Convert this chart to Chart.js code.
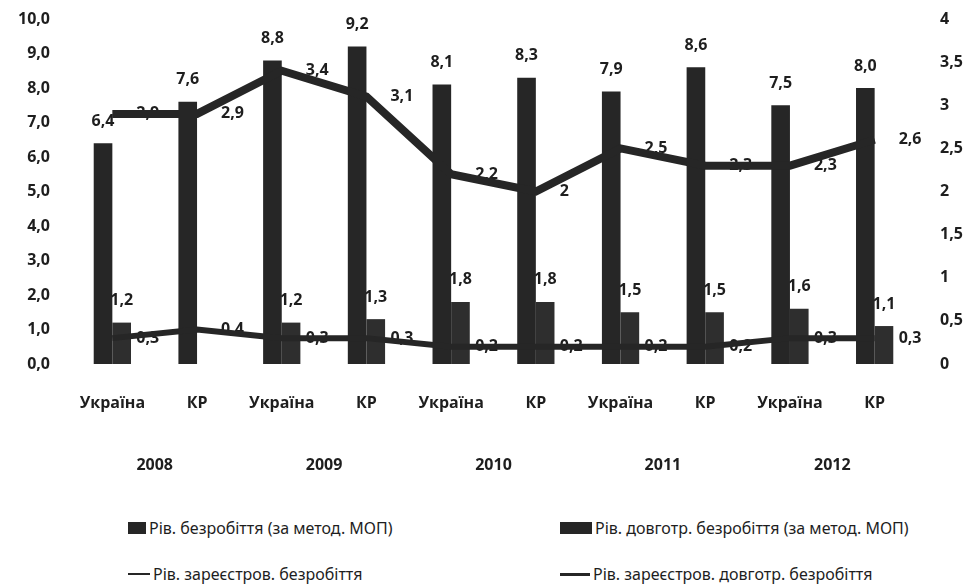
<!DOCTYPE html>
<html>
<head>
<meta charset="utf-8">
<script src="https://cdn.jsdelivr.net/npm/chart.js@4"></script>
<style>
	body { margin: 0; background: #fff; width: 976px; height: 588px; overflow: hidden; }
	.wrap { position: relative; width: 976px; height: 490px; }
	.legend { position: absolute; top: 490px; left: 0; width: 976px; height: 98px; font-family: "Liberation Sans Narrow", "Noto Sans", sans-serif; font-size: 16px; color: #1e1e1e; }
	.item { position: absolute; display: flex; align-items: center; white-space: nowrap; }
	.box { display: inline-block; height: 12px; background: #262626; margin-right: 3px; }
	.line { display: inline-block; height: 3px; background: #262626; margin-right: 3px; }
</style>
</head>
<body>
<div class="wrap"><canvas id="uChart" width="976" height="490"></canvas></div>
<div class="legend">
	<div class="item" style="left:128px; top:27px;"><span class="box" style="width:18px"></span>Рів. безробіття (за метод. МОП)</div>
	<div class="item" style="left:560px; top:27px;"><span class="box" style="width:32px"></span>Рів. довготр. безробіття (за метод. МОП)</div>
	<div class="item" style="left:128px; top:73px;"><span class="line" style="width:22px; height:2px"></span>Рів. зареєстров. безробіття</div>
	<div class="item" style="left:560px; top:73px;"><span class="line" style="width:30px"></span>Рів. зареєстров. довготр. безробіття</div>
</div>
<script>
const categories = ["Україна", "КР", "Україна", "КР", "Україна", "КР", "Україна", "КР", "Україна", "КР"];
const years = ["2008", "2009", "2010", "2011", "2012"];
const unemploymentILO = [6.4, 7.6, 8.8, 9.2, 8.1, 8.3, 7.9, 8.6, 7.5, 8.0];
const longTermILO = [1.2, null, 1.2, 1.3, 1.8, 1.8, 1.5, 1.5, 1.6, 1.1];
const registered = [2.9, 2.9, 3.4, 3.1, 2.2, 2.0, 2.5, 2.3, 2.3, 2.6];
const registeredLongTerm = [0.3, 0.4, 0.3, 0.3, 0.2, 0.2, 0.2, 0.2, 0.3, 0.3];
const leftMax = 10;
const rightMax = 4;

const dark = "#262626";
const tickFont = { family: "'Open Sans'", size: 16, weight: "bold" };
const labelFont = "bold 16px 'Open Sans', sans-serif";

// decimal comma, like the source
const fixed1 = (v) => v.toFixed(1).replace(".", ",");
const general = (v) => String(Math.round(v * 10) / 10).replace(".", ",");

// value labels drawn under the marks, so the lines cover some of them
const valueLabels = {
	id: "valueLabels",
	beforeDatasetsDraw(chart) {
		const c = chart.ctx;
		c.save();
		c.font = labelFont;
		c.fillStyle = "#1e1e1e";
		chart.data.datasets.forEach((ds, i) => {
			const meta = chart.getDatasetMeta(i);
			meta.data.forEach((el, j) => {
				const v = ds.data[j];
				if (v === null || v === undefined) return;
				if (ds.type === "line") {
					c.textAlign = "left";
					c.textBaseline = "middle";
					c.fillText(general(v), el.x + 24, el.y);
				} else {
					c.textAlign = "center";
					c.textBaseline = "middle";
					c.fillText(fixed1(v), el.x, el.y - 22);
				}
			});
		});
		c.restore();
	},
};

// the tick padding would otherwise also be added above the plot
const fitY = (w) => (s) => {
	s.width = w;
	s.paddingTop = 0;
	s.paddingBottom = 0;
};

const ctx = document.getElementById("uChart").getContext("2d");
const chart = new Chart(ctx, {
	data: {
		labels: categories,
		datasets: [
			{
				type: "bar",
				label: "Рів. безробіття (за метод. МОП)",
				data: unemploymentILO,
				backgroundColor: dark,
				yAxisID: "y",
				order: 2,
				categoryPercentage: 0.44,
				barPercentage: 1,
			},
			{
				type: "bar",
				label: "Рів. довготр. безробіття (за метод. МОП)",
				data: longTermILO,
				backgroundColor: "#2e2e2e",
				yAxisID: "y",
				order: 2,
				categoryPercentage: 0.44,
				barPercentage: 1,
			},
			{
				type: "line",
				label: "Рів. зареєстров. безробіття",
				data: registered,
				borderColor: dark,
				borderWidth: 8,
				pointRadius: 0,
				tension: 0,
				yAxisID: "y2",
				order: 1,
			},
			{
				type: "line",
				label: "Рів. зареєстров. довготр. безробіття",
				data: registeredLongTerm,
				borderColor: dark,
				borderWidth: 6,
				pointRadius: 0,
				tension: 0,
				yAxisID: "y2",
				order: 0,
			},
		],
	},
	options: {
		responsive: false,
		animation: false,
		layout: { autoPadding: false, padding: { top: 19, left: 0, right: 0, bottom: 0 } },
		scales: {
			x: {
				grid: { display: false, drawTicks: false },
				border: { display: false },
				ticks: { color: "#1e1e1e", font: tickFont, padding: 30, maxRotation: 0, autoSkip: false },
				afterFit: (s) => { s.height = 60; },
			},
			x2: {
				type: "category",
				labels: years,
				position: "bottom",
				offset: true,
				grid: { display: false, drawTicks: false },
				border: { display: false },
				ticks: { color: "#1e1e1e", font: tickFont, padding: 32, maxRotation: 0 },
				afterFit: (s) => { s.height = 66; },
			},
			y: {
				position: "left",
				min: 0,
				max: leftMax,
				grid: { display: false, drawTicks: false },
				border: { display: false },
				ticks: { stepSize: 1, color: "#1e1e1e", font: tickFont, padding: 20, callback: (v) => fixed1(v) },
				afterFit: fitY(70),
			},
			y2: {
				position: "right",
				min: 0,
				max: rightMax,
				grid: { display: false, drawTicks: false },
				border: { display: false },
				ticks: { stepSize: 0.5, color: "#1e1e1e", font: tickFont, padding: 23, callback: (v) => general(v) },
				afterFit: fitY(59),
			},
		},
		plugins: {
			legend: { display: false },
			tooltip: { enabled: false },
		},
	},
	plugins: [valueLabels],
});
</script>
</body>
</html>
